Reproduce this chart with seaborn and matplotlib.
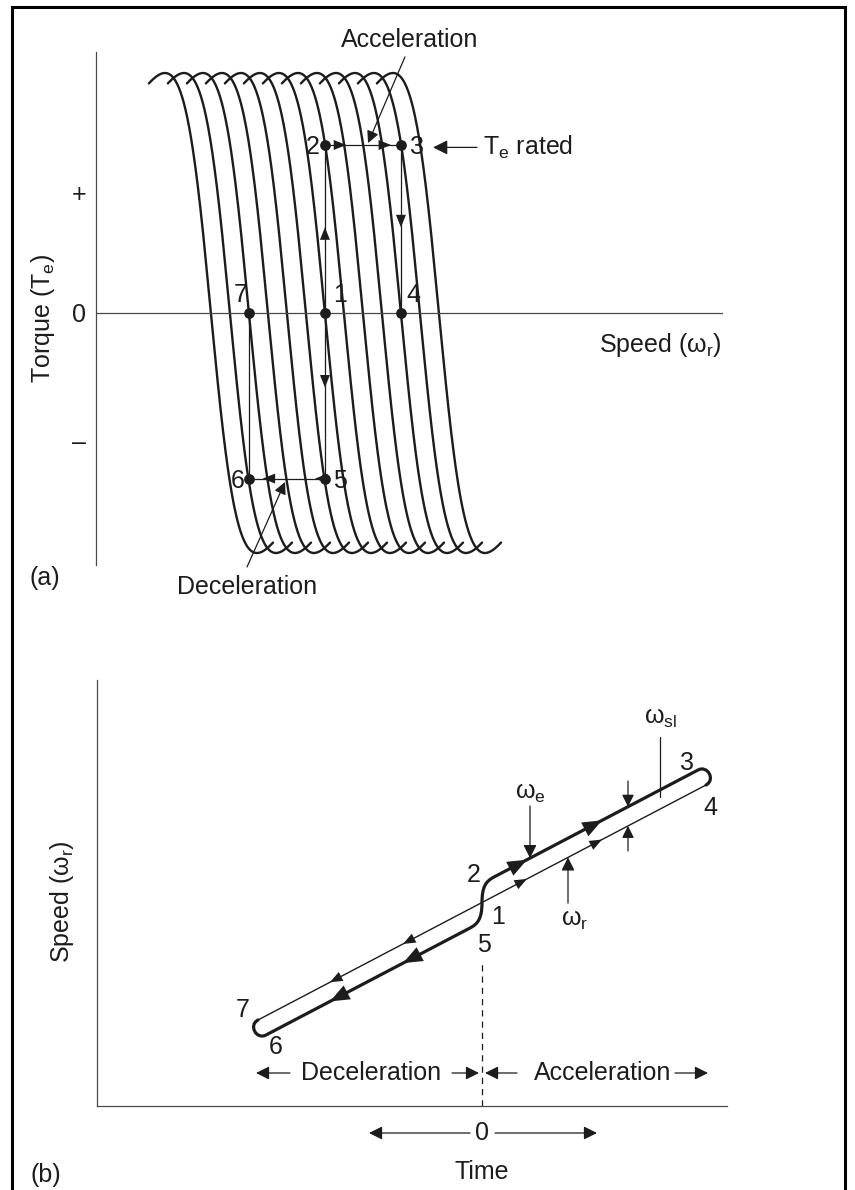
import numpy as np
import pandas as pd
import matplotlib
matplotlib.use('Agg')
import matplotlib.pyplot as plt
import seaborn as sns
from matplotlib.path import Path
from matplotlib.patches import PathPatch, Rectangle

# =====================================================================
# data
# =====================================================================
# (a) torque-speed curves, one per supply frequency (synchronous speed)
sync_speeds = [6.05, 7.05, 8.05, 9.05, 10.05, 11.05, 12.05,
               13.05, 14.05, 15.05, 16.05, 17.05, 18.05]
peak_torque = 1.0        # breakdown torque
breakdown_slip = 2.42    # speed offset of the torque peaks
slip_span = 1.35         # curves drawn a little past each peak

state_labels = ['1', '2', '3', '4', '5', '6', '7']
state_speed = [12.05, 12.05, 16.05, 16.05, 12.05, 8.05, 8.05]
state_torque = [0.0, 0.70, 0.70, 0.0, -0.69, -0.69, 0.0]
# transitions between states and where their arrowheads sit (fraction of segment)
transitions = [(0, 1), (1, 2), (2, 3), (0, 4), (4, 5), (5, 6)]
transition_heads = [[0.51], [0.28, 0.87], [0.49], [0.45], [0.13, 0.82], []]

# (b) speed vs time
wr_time = [-2.24, 2.24]
wr_speed = [0.86, 3.21]
we_time = [-2.16, -0.12, 0.12, 2.16]
we_speed = [0.71, 1.78, 2.29, 3.36]
head_times_decel = [-0.72, -1.45]
head_times_accel = [0.38, 1.13]

# =====================================================================
# style
# =====================================================================
sns.set_theme(style='white')
plt.rcParams['font.family'] = ['Liberation Sans', 'DejaVu Sans']
plt.rcParams['mathtext.fontset'] = 'custom'
plt.rcParams['mathtext.rm'] = 'Liberation Sans'
plt.rcParams['mathtext.it'] = 'Liberation Sans:italic'
INK = '#1c1c1c'
AX = '#4a4a4a'
FS = 18

W, H = 855, 1190
fig = plt.figure(figsize=(W / 100, H / 100), dpi=100)
fig.patch.set_facecolor('white')
fig.patches.append(Rectangle((12 / W, -0.01), (845 - 12) / W, 1.01 - 7 / H,
                             transform=fig.transFigure, fill=False,
                             edgecolor='black', lw=2.2))


def px_axes(left, top, right, bottom):
    return fig.add_axes([left / W, 1 - bottom / H, (right - left) / W, (bottom - top) / H])


def arrow(ax, p0, p1, size=20, lw=0.9, hl=0.4, hw=0.2):
    ax.annotate('', xy=p1, xytext=p0, annotation_clip=False,
                arrowprops=dict(arrowstyle=f'-|>,head_length={hl},head_width={hw}',
                                mutation_scale=size, color=INK,
                                lw=lw, shrinkA=0, shrinkB=0))


# =====================================================================
# (a) torque vs speed
# =====================================================================
ax = px_axes(96, 52, 723, 565)
u = np.linspace(-slip_span, slip_span, 300)
rows = []
for i, ws in enumerate(sync_speeds):
    # Kloss torque-speed characteristic
    rows.append(pd.DataFrame({'speed': ws - u * breakdown_slip,
                              'torque': 2 * peak_torque * u / (1 + u ** 2),
                              'curve': i}))
curves = pd.concat(rows)
sns.lineplot(data=curves, x='speed', y='torque', units='curve', estimator=None,
             sort=False, color=INK, lw=1.7, ax=ax)

ax.axhline(0, color=AX, lw=0.9)
for (i, j), fracs in zip(transitions, transition_heads):
    x0, y0 = state_speed[i], state_torque[i]
    x1, y1 = state_speed[j], state_torque[j]
    ax.plot([x0, x1], [y0, y1], color=INK, lw=0.9)
    for f in fracs:
        tip = (x0 + f * (x1 - x0), y0 + f * (y1 - y0))
        tail = (x0 + (f - 0.08) * (x1 - x0), y0 + (f - 0.08) * (y1 - y0))
        arrow(ax, tail, tip, size=20, lw=0, hl=0.45, hw=0.18)
sns.scatterplot(x=state_speed, y=state_torque, s=60, color=INK, linewidth=0,
                ax=ax, zorder=5)

label_offsets = {'1': (0.8, 0.075), '2': (-0.65, -0.01), '3': (0.85, -0.01),
                 '4': (0.63, 0.075), '5': (0.8, -0.01), '6': (-0.6, -0.01),
                 '7': (-0.45, 0.075)}
for lab, x, y in zip(state_labels, state_speed, state_torque):
    dx, dy = label_offsets[lab]
    ax.text(x + dx, y + dy, lab, fontsize=FS, color=INK, ha='center', va='center')

ax.text(16.5, 1.137, 'Acceleration', fontsize=FS, color=INK, ha='center', va='center')
arrow(ax, (16.26, 1.067), (14.32, 0.708), size=18)
ax.text(7.95, -1.142, 'Deceleration', fontsize=FS, color=INK, ha='center', va='center')
arrow(ax, (7.95, -1.058), (9.95, -0.704), size=18)
arrow(ax, (20.05, 0.69), (17.74, 0.69), size=22)
ax.text(20.37, 0.69, 'T$_\\mathrm{e}$ rated', fontsize=FS, color=INK, ha='left', va='center')
ax.text(29.68, -0.133, 'Speed (ω$_\\mathrm{r}$)', fontsize=FS, color=INK,
        ha='center', va='center')
ax.text(-0.0845, 0.48, 'Torque (T$_\\mathrm{e}$)', fontsize=FS, color=INK, rotation=90,
        ha='center', va='center', transform=ax.transAxes)

ax.set_xlim(0, 33)
ax.set_ylim(-1.05, 1.0875)
ax.set_xlabel('')
ax.set_ylabel('')
ax.set_xticks([])
ax.set_yticks([0.5, 0, -0.53], ['+', '0', '–'], fontsize=FS, color=INK)
ax.tick_params(axis='y', length=0, pad=7)
for side in ['top', 'right', 'bottom']:
    ax.spines[side].set_visible(False)
ax.spines['left'].set_color(AX)
ax.spines['left'].set_linewidth(0.9)
ax.patch.set_alpha(0)

# =====================================================================
# (b) speed vs time
# =====================================================================
bx = px_axes(97, 680, 727, 1106)
sns.lineplot(x=wr_time, y=wr_speed, color=INK, lw=1.0, ax=bx)

slope = (wr_speed[1] - wr_speed[0]) / (wr_time[1] - wr_time[0])
d = np.array([1.0, slope]) / np.hypot(1.0, slope)
k = 0.11
A = np.array([wr_time[0], wr_speed[0]])
B = np.array([we_time[0], we_speed[0]])
C = np.array([we_time[3], we_speed[3]])
D = np.array([wr_time[1], wr_speed[1]])
P0 = np.array([we_time[1], we_speed[1]])
P3 = np.array([we_time[2], we_speed[2]])
M = np.array([0.0, (P0[1] + P3[1]) / 2])
verts = [A, A - d * k, B - d * k, B,
         P0,
         P0 + d * 0.09, M + [0, -0.16], M,
         M + [0, 0.16], P3 - d * 0.09, P3,
         C,
         C + d * k, D + d * k, D]
codes = [Path.MOVETO, Path.CURVE4, Path.CURVE4, Path.CURVE4,
         Path.LINETO,
         Path.CURVE4, Path.CURVE4, Path.CURVE4,
         Path.CURVE4, Path.CURVE4, Path.CURVE4,
         Path.LINETO,
         Path.CURVE4, Path.CURVE4, Path.CURVE4]
bx.add_patch(PathPatch(Path(verts, codes), fill=False, edgecolor=INK, lw=2.3,
                       capstyle='round', joinstyle='round'))


def wr_at(t):
    return wr_speed[0] + slope * (t - wr_time[0])


gap = we_speed[0] - wr_at(we_time[0])
for t in head_times_decel:
    arrow(bx, (t + 0.07, wr_at(t + 0.07)), (t - 0.07, wr_at(t - 0.07)),
          size=20, lw=0, hl=0.45, hw=0.18)
    arrow(bx, (t + 0.07, wr_at(t + 0.07) + gap), (t - 0.07, wr_at(t - 0.07) + gap),
          size=28, lw=0, hl=0.5, hw=0.2)
for t in head_times_accel:
    arrow(bx, (t - 0.07, wr_at(t - 0.07)), (t + 0.07, wr_at(t + 0.07)),
          size=20, lw=0, hl=0.45, hw=0.18)
    arrow(bx, (t - 0.07, wr_at(t - 0.07) - gap), (t + 0.07, wr_at(t + 0.07) - gap),
          size=28, lw=0, hl=0.5, hw=0.2)

# pointers
bx.text(0.48, 3.13, 'ω$_\\mathrm{e}$', fontsize=FS, color=INK, ha='center', va='center')
arrow(bx, (0.48, 3.0), (0.48, wr_at(0.48) - gap), size=20)
bx.text(0.93, 1.86, 'ω$_\\mathrm{r}$', fontsize=FS, color=INK, ha='center', va='center')
arrow(bx, (0.86, 2.03), (0.86, wr_at(0.86)), size=20)
bx.text(1.79, 3.88, 'ω$_\\mathrm{sl}$', fontsize=FS, color=INK, ha='center', va='center')
bx.plot([1.78, 1.78], [3.69, 3.09], color=INK, lw=0.9)
arrow(bx, (1.46, 3.25), (1.46, wr_at(1.46) - gap), size=18)
arrow(bx, (1.46, 2.55), (1.46, wr_at(1.46)), size=18)

for lab, t, s in [('2', -0.08, 2.31), ('1', 0.16, 1.89), ('5', 0.02, 1.61),
                  ('7', -2.39, 0.96), ('6', -2.06, 0.59), ('3', 2.05, 3.43),
                  ('4', 2.28, 2.98)]:
    bx.text(t, s, lab, fontsize=FS, color=INK, ha='center', va='center')

bx.plot([0, 0], [0, 1.45], color=INK, lw=0.9, ls=(0, (5, 4)))

row = 0.33
arrow(bx, (-1.92, row), (-2.26, row))
bx.text(-1.11, row, 'Deceleration', fontsize=FS, color=INK, ha='center', va='center')
arrow(bx, (-0.30, row), (-0.03, row))
arrow(bx, (0.35, row), (0.03, row))
bx.text(1.21, row, 'Acceleration', fontsize=FS, color=INK, ha='center', va='center')
arrow(bx, (1.93, row), (2.26, row))

bx.text(0, -0.27, '0', fontsize=FS, color=INK, ha='center', va='center')
arrow(bx, (-0.12, -0.27), (-1.13, -0.27))
arrow(bx, (0.13, -0.27), (1.15, -0.27))
bx.text(0, -0.66, 'Time', fontsize=FS, color=INK, ha='center', va='center')
bx.text((62 - 97) / 630, 0.48, 'Speed (ω$_\\mathrm{r}$)', fontsize=FS, color=INK,
        rotation=90, ha='center', va='center', transform=bx.transAxes)

bx.set_xlim(-3.85, 2.45)
bx.set_ylim(0, 4.26)
bx.set_xlabel('')
bx.set_ylabel('')
bx.set_xticks([])
bx.set_yticks([])
for side in ['top', 'right']:
    bx.spines[side].set_visible(False)
for side in ['left', 'bottom']:
    bx.spines[side].set_color(AX)
    bx.spines[side].set_linewidth(0.9)
bx.patch.set_alpha(0)

fig.text(45 / W, 1 - 578 / H, '(a)', fontsize=FS, color=INK, ha='center', va='center')
fig.text(46 / W, 1 - 1175 / H, '(b)', fontsize=FS, color=INK, ha='center', va='center')

plt.savefig('out.png', dpi=100)
